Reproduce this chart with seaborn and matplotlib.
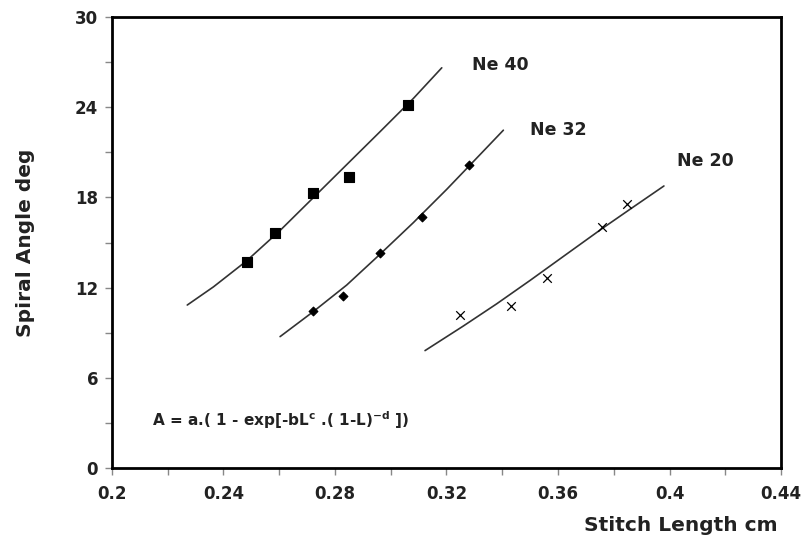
import numpy as np
import pandas as pd
import matplotlib
matplotlib.use("Agg")
import matplotlib.pyplot as plt
import seaborn as sns

ne40_L = [0.2483, 0.2585, 0.2722, 0.2851, 0.3061]
ne40_A = [13.68, 15.61, 18.27, 19.34, 24.15]
ne32_L = [0.2722, 0.2828, 0.2961, 0.3111, 0.3282]
ne32_A = [10.44, 11.44, 14.28, 16.72, 20.13]
ne20_L = [0.3248, 0.3430, 0.3562, 0.3757, 0.3846]
ne20_A = [10.18, 10.80, 12.62, 16.05, 17.56]

# fitted curves
fit40_L = [0.2270, 0.2364, 0.2483, 0.2603, 0.2722, 0.2842, 0.2961, 0.3081, 0.3183]
fit40_A = [10.84, 12.05, 13.78, 15.80, 17.98, 20.18, 22.36, 24.58, 26.62]
fit32_L = [0.2603, 0.2722, 0.2842, 0.2961, 0.3081, 0.3201, 0.3320, 0.3404]
fit32_A = [8.74, 10.40, 12.17, 14.21, 16.32, 18.54, 20.84, 22.47]
fit20_L = [0.3123, 0.3260, 0.3380, 0.3500, 0.3619, 0.3757, 0.3870, 0.3980]
fit20_A = [7.81, 9.44, 10.92, 12.48, 14.07, 15.91, 17.36, 18.76]

series_names = ["Ne 40", "Ne 32", "Ne 20"]
label_L = [0.3291, 0.3500, 0.4026]
label_A = [26.8, 22.5, 20.4]
x_ticks = [0.2, 0.24, 0.28, 0.32, 0.36, 0.4, 0.44]
x_tick_labels = ["0.2", "0.24", "0.28", "0.32", "0.36", "0.4", "0.44"]
y_ticks = [0, 6, 12, 18, 24, 30]

pts = pd.concat([
    pd.DataFrame({"L": ne40_L, "A": ne40_A, "yarn": "Ne 40"}),
    pd.DataFrame({"L": ne32_L, "A": ne32_A, "yarn": "Ne 32"}),
    pd.DataFrame({"L": ne20_L, "A": ne20_A, "yarn": "Ne 20"}),
], ignore_index=True)
fits = pd.concat([
    pd.DataFrame({"L": fit40_L, "A": fit40_A, "yarn": "Ne 40"}),
    pd.DataFrame({"L": fit32_L, "A": fit32_A, "yarn": "Ne 32"}),
    pd.DataFrame({"L": fit20_L, "A": fit20_A, "yarn": "Ne 20"}),
], ignore_index=True)

sns.set_theme(style="ticks")
plt.rcParams["font.family"] = ["DejaVu Sans"]
plt.rcParams["mathtext.default"] = "regular"

fig = plt.figure(figsize=(8.05, 5.40), dpi=100)
ax = fig.add_axes([112 / 805, 1 - 468 / 540, (781 - 112) / 805, (468 - 17) / 540])

for name in series_names:
    d = fits[fits["yarn"] == name]
    sns.lineplot(data=d, x="L", y="A", ax=ax, color="#333333", linewidth=1.2,
                 sort=False, estimator=None, legend=False)

marker_styles = {"Ne 40": ("s", 42, 0.8), "Ne 32": ("D", 20, 0.8), "Ne 20": ("x", 38, 0.9)}
for name in series_names:
    d = pts[pts["yarn"] == name]
    m, s, lw = marker_styles[name]
    sns.scatterplot(data=d, x="L", y="A", ax=ax, marker=m, s=s, color="black",
                    edgecolor="black", linewidth=lw, legend=False, zorder=5)

ax.set_xlim(0.2, 0.44)
ax.set_ylim(0, 30)
ax.set_xticks(x_ticks)
ax.set_xticklabels(x_tick_labels)
ax.set_xticks(np.arange(0.22, 0.44, 0.04), minor=True)
ax.set_yticks(y_ticks)
ax.set_yticks(np.arange(3, 30, 6), minor=True)

for side in ["left", "right", "top", "bottom"]:
    ax.spines[side].set_visible(True)
    ax.spines[side].set_linewidth(2.0)
    ax.spines[side].set_color("black")

ax.tick_params(axis="both", which="both", direction="out", length=5, width=1.0,
               color="#888888", labelsize=12, pad=5)
ax.tick_params(axis="x", pad=7)
for lab in ax.get_xticklabels() + ax.get_yticklabels():
    lab.set_fontweight("bold")
    lab.set_color("#222222")

ax.set_xlabel("Stitch Length cm", fontsize=14.5, fontweight="bold", color="#222222")
ax.set_ylabel("Spiral Angle deg", fontsize=14.5, fontweight="bold", color="#222222")
ax.xaxis.set_label_coords(0.85, -0.107)
ax.yaxis.set_label_coords(-0.115, 0.5)

for name, lx, ly in zip(series_names, label_L, label_A):
    ax.text(lx, ly, name, fontsize=12.5, fontweight="bold", va="center", ha="left",
            color="#222222")

ax.text(0.2143, 3.2, r"A = a.( 1 - exp[-bL$^{c}$ .( 1-L)$^{-d}$ ])",
        fontsize=11, fontweight="bold", va="center", ha="left", color="#222222")

fig.savefig("out.png", dpi=100, facecolor="white")
